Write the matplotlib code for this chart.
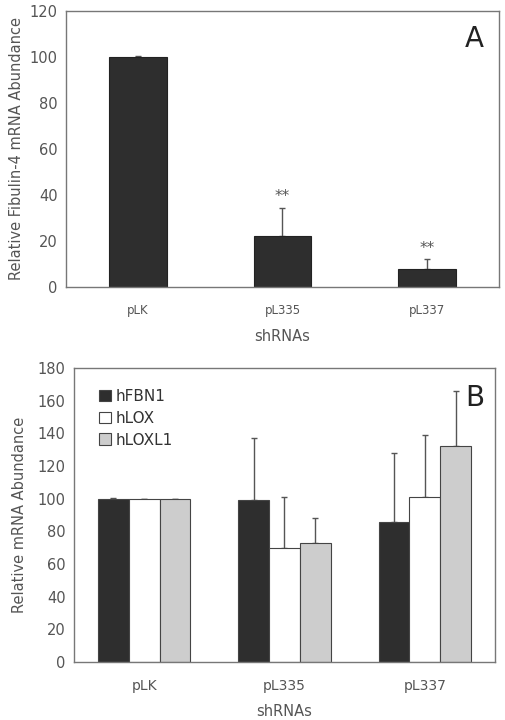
import numpy as np
import matplotlib
matplotlib.use('Agg')
import matplotlib.pyplot as plt

# Panel A data
shrnas = ['pLK', 'pL335', 'pL337']
fibulin4 = [100, 22, 8]
fibulin4_err = [0.3, 12.5, 4]
signif = ['', '**', '**']

# Panel B data
genes = ['hFBN1', 'hLOX', 'hLOXL1']
hfbn1 = [100, 99, 86]
hfbn1_err = [0.5, 38, 42]
hlox = [100, 70, 101]
hlox_err = [0, 31, 38]
hloxl1 = [100, 73, 132]
hloxl1_err = [0, 15, 34]

text_col = '#555555'
frame_col = '#777777'
dark = '#2e2e2e'
light = '#cdcdcd'

plt.rcParams['font.family'] = ['DejaVu Sans']
fig = plt.figure(figsize=(5.06, 7.2), dpi=100)

# ---- Panel A ----
axA = fig.add_axes([66 / 506, 1 - 287 / 720, 433 / 506, 276 / 720])
x = np.arange(len(shrnas))
axA.bar(x, fibulin4, width=0.4, color=dark, edgecolor='#222222', linewidth=0.8, zorder=2)
axA.errorbar(x, fibulin4, yerr=[np.zeros(3), fibulin4_err], fmt='none',
             ecolor='#555555', elinewidth=1, capsize=2.5, capthick=1, zorder=1)
for xi, v, e, s in zip(x, fibulin4, fibulin4_err, signif):
    if s:
        axA.text(xi, v + e + 1.5, s, ha='center', va='bottom', fontsize=11, color=text_col)
axA.set_xlim(-0.5, 2.5)
axA.set_ylim(0, 120)
axA.set_yticks(range(0, 121, 20))
axA.set_xticks(x)
axA.set_xticklabels(shrnas, fontsize=8.5, color=text_col)
axA.tick_params(axis='y', labelsize=10.5, labelcolor=text_col, length=0, pad=6)
axA.tick_params(axis='x', length=0, pad=12)
axA.set_ylabel('Relative Fibulin-4 mRNA Abundance', fontsize=10.5, color=text_col, labelpad=4)
axA.set_xlabel('shRNAs', fontsize=10.5, color=text_col, labelpad=9)
axA.text(0.965, 0.95, 'A', transform=axA.transAxes, ha='right', va='top', fontsize=20, color='#222222')
for sp in axA.spines.values():
    sp.set_color(frame_col)
    sp.set_linewidth(1)

# ---- Panel B ----
axB = fig.add_axes([74 / 506, 1 - 662 / 720, 421 / 506, 294 / 720])
w = 0.22
series = [(hfbn1, hfbn1_err, dark), (hlox, hlox_err, 'white'), (hloxl1, hloxl1_err, light)]
for i, (vals, errs, col) in enumerate(series):
    pos = x + (i - 1) * w
    axB.bar(pos, vals, width=w, color=col, edgecolor='#444444', linewidth=0.8,
            label=genes[i], zorder=2)
    axB.errorbar(pos, vals, yerr=[np.zeros(3), errs], fmt='none',
                 ecolor='#555555', elinewidth=1, capsize=2.5, capthick=1, zorder=1)
axB.set_xlim(-0.5, 2.5)
axB.set_ylim(0, 180)
axB.set_yticks(range(0, 181, 20))
axB.set_xticks(x)
axB.set_xticklabels(shrnas, fontsize=10, color=text_col)
axB.tick_params(axis='y', labelsize=10.5, labelcolor=text_col, length=0, pad=6)
axB.tick_params(axis='x', length=0, pad=12)
axB.set_ylabel('Relative mRNA Abundance', fontsize=10.5, color=text_col, labelpad=8)
axB.set_xlabel('shRNAs', fontsize=10.5, color=text_col, labelpad=8)
axB.text(0.975, 0.945, 'B', transform=axB.transAxes, ha='right', va='top', fontsize=20, color='#222222')
leg = axB.legend(loc='upper left', bbox_to_anchor=(0.045, 0.95), frameon=False,
                 fontsize=11, handlelength=0.8, handleheight=0.8, handletextpad=0.3,
                 labelspacing=0.45, borderaxespad=0)
for t in leg.get_texts():
    t.set_color('#333333')
for sp in axB.spines.values():
    sp.set_color(frame_col)
    sp.set_linewidth(1)

fig.savefig('out.png', dpi=100, facecolor='white')
